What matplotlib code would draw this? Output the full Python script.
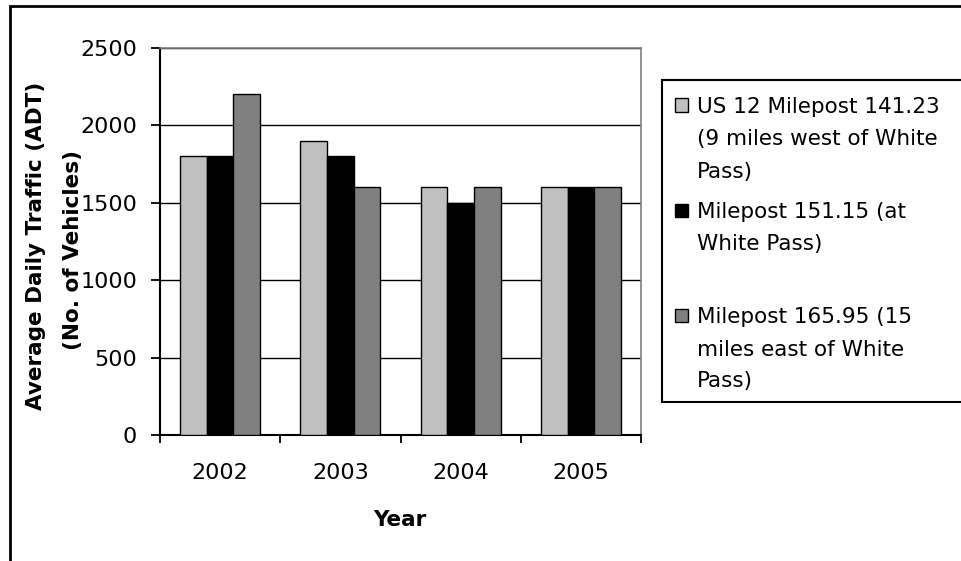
import numpy as np
import matplotlib
matplotlib.use("Agg")
from matplotlib import pyplot as plt, patches

# Average daily traffic counts on US 12 near White Pass
years = ["2002", "2003", "2004", "2005"]
mp_141 = [1800, 1900, 1600, 1600]
mp_151 = [1800, 1800, 1500, 1600]
mp_166 = [2200, 1600, 1600, 1600]
series_labels = [
    ["US 12 Milepost 141.23", "(9 miles west of White", "Pass)"],
    ["Milepost 151.15 (at", "White Pass)"],
    ["Milepost 165.95 (15", "miles east of White", "Pass)"],
]
series_colors = ["#c0c0c0", "#000000", "#808080"]

W, H = 961, 561


def fx(x):
    return x / W


def fy(y):
    return 1 - y / H


fig = plt.figure(figsize=(W / 100, H / 100), dpi=100)
ax = fig.add_axes([fx(160), fy(435), fx(641) - fx(160), fy(48) - fy(435)])

x = np.arange(len(years))
bw = 0.222
for i, vals in enumerate([mp_141, mp_151, mp_166]):
    ax.bar(x + (i - 1) * bw, vals, bw, color=series_colors[i],
           edgecolor="black", linewidth=1, zorder=3)

ax.set_xlim(-0.5, 3.5)
ax.set_ylim(0, 2500)
ax.set_yticks(np.arange(0, 2501, 500))
ax.yaxis.grid(True, color="black", linewidth=1, zorder=0)

# major ticks mark group boundaries, minor ticks carry the year labels
ax.set_xticks(np.arange(-0.5, 4, 1))
ax.set_xticklabels([])
ax.set_xticks(x, minor=True)
ax.set_xticklabels(years, minor=True, fontsize=16)
ax.tick_params(axis="x", which="major", direction="out", length=6, width=1.3)
ax.tick_params(axis="x", which="minor", length=0, pad=20)
ax.tick_params(axis="y", direction="out", length=6.5, width=1.3,
               labelsize=16, pad=10)

for s in ["left", "bottom"]:
    ax.spines[s].set_color("black")
    ax.spines[s].set_linewidth(1.5)
for s in ["top", "right"]:
    ax.spines[s].set_color("#808080")
    ax.spines[s].set_linewidth(1.2)

# axis titles
fig.text(fx(400), fy(526), "Year", ha="center", va="baseline",
         fontsize=15.5, fontweight="bold")
fig.text(fx(36.5), fy(246), "Average Daily Traffic (ADT)", rotation=90,
         ha="center", va="center", fontsize=15.5, fontweight="bold")
fig.text(fx(72.5), fy(250), "(No. of Vehicles)", rotation=90,
         ha="center", va="center", fontsize=15.5, fontweight="bold")

# legend box with one swatch per series
fig.add_artist(patches.Rectangle((fx(662), fy(402)), fx(1000) - fx(662),
                                 fy(80) - fy(402), transform=fig.transFigure,
                                 facecolor="white", edgecolor="black",
                                 linewidth=1.5))
line_rows = [[105, 137, 170], [210, 242], [315, 348, 379]]
for color, lines, rows in zip(series_colors, series_labels, line_rows):
    fig.add_artist(patches.Rectangle((fx(675), fy(rows[0] + 6.5)), 13 / W,
                                     13 / H, transform=fig.transFigure,
                                     facecolor=color, edgecolor="black",
                                     linewidth=1))
    for txt, yy in zip(lines, rows):
        fig.text(fx(697), fy(yy + 7.8), txt, ha="left", va="baseline",
                 fontsize=15.5)

# outer chart border
fig.add_artist(patches.Rectangle((fx(10), fy(700)), fx(1100) - fx(10),
                                 fy(6) - fy(700), transform=fig.transFigure,
                                 facecolor="none", edgecolor="black",
                                 linewidth=2))

fig.savefig("out.png", dpi=100)
